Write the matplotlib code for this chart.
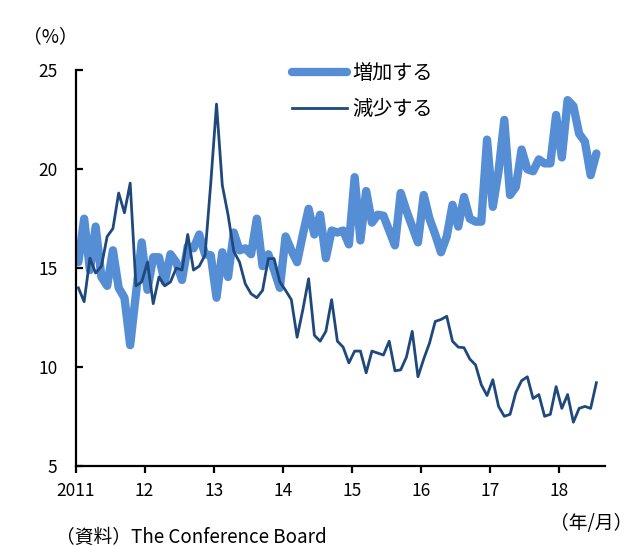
import numpy as np
import matplotlib.pyplot as plt

plt.rcParams['font.family'] = ['Noto Sans CJK JP', 'DejaVu Sans']

# 月次データ 2011年1月〜2018年7月（%）
increase = [15.3, 17.5, 14.9, 17.1, 14.55, 14.1, 15.9, 14.0, 13.5, 11.1,
            13.7, 16.3, 13.9, 15.55, 15.55, 14.3, 15.7, 15.3, 14.4, 16.1,
            16.0, 16.7, 15.7, 15.65, 13.5, 15.8, 14.55, 16.8, 15.9, 16.0,
            15.7, 17.5, 15.1, 15.7, 14.9, 14.0, 16.6, 15.9, 15.3, 16.7,
            18.0, 16.7, 17.7, 15.5, 16.9, 16.8, 16.9, 16.2, 19.6, 16.4,
            18.9, 17.3, 17.7, 17.65, 16.9, 16.15, 18.8, 17.9, 17.1, 16.3,
            18.7, 17.5, 16.7, 15.8, 16.6, 18.2, 17.1, 18.6, 17.5, 17.35,
            17.35, 21.5, 18.1, 19.9, 22.5, 18.7, 19.1, 21.0, 20.0, 19.9,
            20.5, 20.3, 20.3, 22.75, 20.6, 23.5, 23.2, 21.8, 21.4, 19.7,
            20.8]
decrease = [14.0, 13.3, 15.5, 14.75, 15.1, 16.6, 17.0, 18.8, 17.8, 19.3,
            14.1, 14.3, 15.3, 13.2, 14.55, 14.1, 14.3, 15.0, 14.9, 16.7,
            14.9, 15.1, 15.65, 19.3, 23.3, 19.2, 17.7, 15.85, 15.3, 14.2,
            13.7, 13.5, 13.87, 15.48, 15.48, 14.3, 13.87, 13.4, 11.5, 12.9,
            14.46, 11.6, 11.3, 11.8, 13.4, 11.3, 11.0, 10.2, 10.8, 10.8,
            9.7, 10.8, 10.7, 10.6, 11.3, 9.8, 9.85, 10.5, 11.8, 9.5,
            10.4, 11.2, 12.3, 12.4, 12.56, 11.3, 11.0, 10.97, 10.4, 10.1,
            9.1, 8.55, 9.35, 8.0, 7.5, 7.6, 8.7, 9.3, 9.5, 8.4,
            8.6, 7.5, 7.6, 9.0, 7.9, 8.6, 7.2, 7.9, 8.0, 7.9,
            9.2]
year_labels = ['2011', '12', '13', '14', '15', '16', '17', '18']
y_ticks = [5, 10, 15, 20, 25]

fig = plt.figure(figsize=(6.34, 5.46), dpi=100)
ax = fig.add_axes([0.1191, 0.1471, 0.8352, 0.7238])

months = np.arange(len(increase))
ax.plot(months, increase, color='#558ED5', lw=6, solid_joinstyle='round',
        solid_capstyle='round', label='増加する', zorder=2)
ax.plot(months, decrease, color='#1F497D', lw=2.0, label='減少する', zorder=3)

ax.set_xlim(-0.5, 91.5)
ax.set_ylim(5, 25)
ax.set_yticks(y_ticks)
ax.set_xticks(np.arange(len(year_labels)) * 12 - 0.5)
ax.set_xticklabels(year_labels)

for s in ['top', 'right']:
    ax.spines[s].set_visible(False)
for s in ['left', 'bottom']:
    ax.spines[s].set_linewidth(1.6)
ax.tick_params(axis='y', direction='in', length=5, width=1.6, pad=13, labelsize=12.5)
ax.tick_params(axis='x', direction='out', length=5, width=1.6, pad=7, labelsize=12.5)

ax.legend(loc='upper left', bbox_to_anchor=(292 / 634, 1 - 63 / 546),
          bbox_transform=fig.transFigure, frameon=False, fontsize=14.5,
          handlelength=2.75, handletextpad=0.25, labelspacing=0.75,
          borderpad=0, borderaxespad=0)

fig.text(50 / 634, 1 - 37 / 546, '（%）', ha='center', va='center', fontsize=13.5)
fig.text(591 / 634, 1 - 524 / 546, '（年/月）', ha='center', va='center', fontsize=13.5)
fig.text(56 / 634, 1 - 537 / 546, '（資料）The Conference Board', ha='left',
         va='center', fontsize=13.5)

fig.savefig('out.png', dpi=100)
